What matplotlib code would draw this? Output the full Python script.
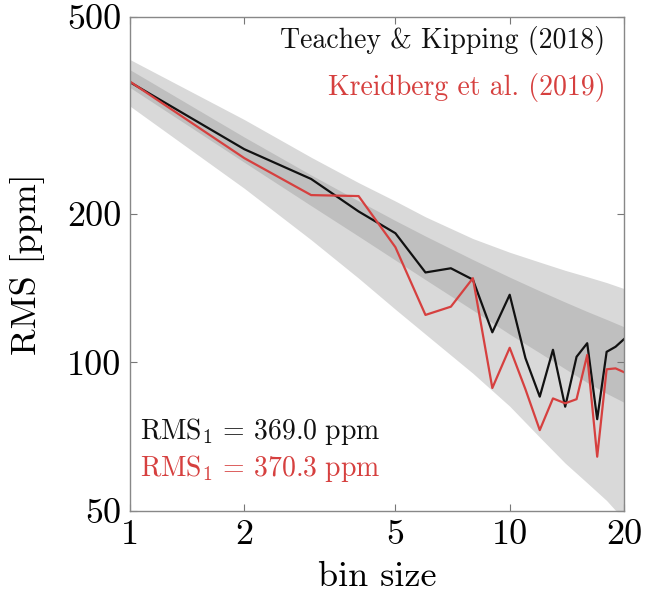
import matplotlib
matplotlib.use("Agg")
import matplotlib.pyplot as plt
from matplotlib.ticker import FixedLocator, NullLocator

plt.rcParams['font.family'] = 'serif'
plt.rcParams['font.serif'] = ['cmr10']
plt.rcParams['mathtext.fontset'] = 'cm'
plt.rcParams['axes.formatter.use_mathtext'] = True

# rms curves vs bin size
bins = list(range(1, 21))
rms_teachey = [369, 270, 235, 202, 182.5, 152, 155, 147, 115, 137,
               102, 85.2, 106, 81.3, 102.6, 109.3, 76.7, 105, 107.5, 111.4]
rms_kreidberg = [370, 259, 218, 217, 171, 124.7, 129.6, 148, 88.7, 107,
                 88.2, 72.9, 84.5, 82.6, 84.2, 103.5, 64.4, 96.8, 97.2, 95.5]

# envelope edges
band_bins = [1, 2, 3, 4, 5, 6, 8, 10, 12, 14, 16, 18, 20]
outer_hi = [410, 310, 260, 231, 212, 197, 178, 167, 159.5, 153.5, 149, 145, 141]
outer_lo = [330, 225, 177, 148, 128, 114, 95, 81.5, 70.5, 62.5, 57, 52.5, 48]
inner_hi = [391, 285.7, 239.4, 212.2, 193.6, 180.1, 161.4, 148.7, 139.5, 132.4, 126.7, 122.1, 118]
inner_lo = [360, 254, 207.5, 180, 161, 147, 127.5, 114, 104.5, 97, 91, 86.5, 83]

xticks = [1, 2, 5, 10, 20]
yticks = [50, 100, 200, 500]

red = '#d6403f'
fs_big = 26
fs = 20

fig = plt.figure(figsize=(6.54, 5.93), dpi=100)
ax = fig.add_axes([130/654, 82/593, 494/654, 494/593])
ax.set_xscale('log')
ax.set_yscale('log')

ax.fill_between(band_bins, outer_lo, outer_hi, color='#d9d9d9', lw=0)
ax.fill_between(band_bins, inner_lo, inner_hi, color='#bfbfbf', lw=0)
ax.plot(bins, rms_teachey, color='#111111', lw=1.6)
ax.plot(bins, rms_kreidberg, color=red, lw=1.6)

ax.set_xlim(1, 20)
ax.set_ylim(50, 500)
ax.xaxis.set_major_locator(FixedLocator(xticks))
ax.yaxis.set_major_locator(FixedLocator(yticks))
ax.xaxis.set_minor_locator(NullLocator())
ax.yaxis.set_minor_locator(NullLocator())
ax.set_xticklabels([str(t) for t in xticks], fontsize=fs_big)
ax.set_yticklabels([str(t) for t in yticks], fontsize=fs_big)
ax.tick_params(which='both', direction='in', top=True, right=True,
               length=5, width=0.8, color='#777777', pad=6)
for s in ax.spines.values():
    s.set_color('#888888')
    s.set_linewidth(1.0)

xl = ax.set_xlabel('bin size', fontsize=fs_big)
xl.set_va('baseline')
ax.xaxis.set_label_coords(0.5, -0.152)
ax.set_ylabel('RMS [ppm]', fontsize=fs_big)
ax.yaxis.set_label_coords(-0.172, 0.5)

ax.text(0.962, 0.953, 'Teachey & Kipping (2018)', transform=ax.transAxes,
        ha='right', va='center', fontsize=fs, color='#111111')
ax.text(0.962, 0.858, 'Kreidberg et al. (2019)', transform=ax.transAxes,
        ha='right', va='center', fontsize=fs, color=red)
ax.text(0.02, 0.16, r'$\mathrm{RMS}_1\,=\,369.0\ \mathrm{ppm}$', transform=ax.transAxes,
        ha='left', va='center', fontsize=fs, color='#111111')
ax.text(0.02, 0.087, r'$\mathrm{RMS}_1\,=\,370.3\ \mathrm{ppm}$', transform=ax.transAxes,
        ha='left', va='center', fontsize=fs, color=red)

fig.savefig('out.png', dpi=100)
